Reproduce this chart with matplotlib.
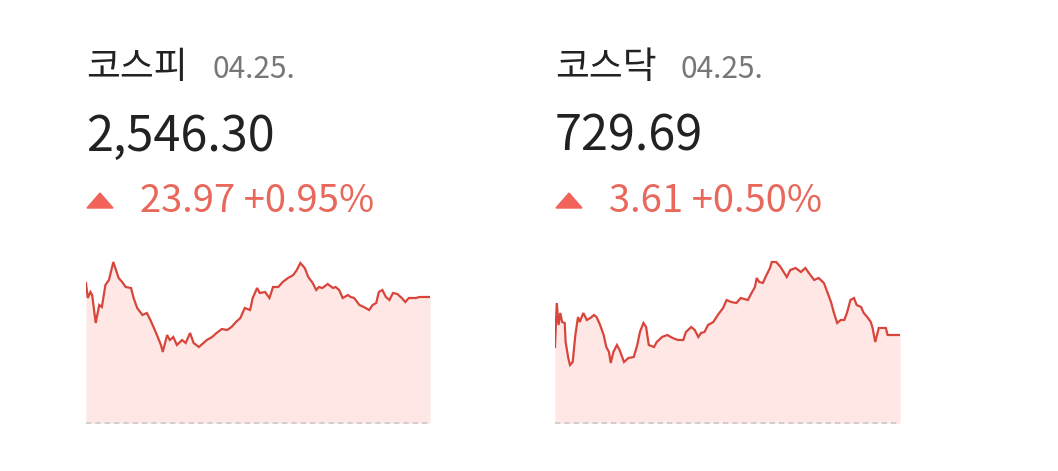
import matplotlib
matplotlib.use('Agg')
import matplotlib.pyplot as plt
from matplotlib.patches import Polygon

plt.rcParams['font.family'] = ['Noto Sans CJK KR', 'DejaVu Sans']

# KOSPI intraday (minutes after open, index value)
kospi_min = [0, 2, 5, 7, 11, 15, 18, 22, 26, 31, 34, 37, 41, 45, 51, 54, 58, 64, 69, 73,
             79, 85, 87, 92, 95, 99, 103, 109, 113, 118, 122, 128, 137, 143, 148, 154, 160,
             165, 170, 175, 180, 186, 189, 194, 197, 203, 208, 212, 218, 223, 229, 235, 239,
             243, 248, 252, 257, 261, 264, 268, 274, 280, 283, 287, 291, 297, 300, 304, 310,
             315, 321, 325, 329, 332, 336, 340, 344, 348, 353, 358, 362, 366, 374, 378, 390]
kospi_val = [2553.3, 2545.8, 2548.8, 2547.3, 2533.3, 2542.3, 2541.3, 2552.3, 2554.8, 2563.8,
             2559.8, 2555.8, 2553.8, 2551.3, 2550.8, 2545.8, 2540.8, 2537.3, 2538.3, 2534.8,
             2528.8, 2522.3, 2518.8, 2527.3, 2524.8, 2526.3, 2522.3, 2524.8, 2523.3, 2528.3,
             2523.3, 2521.3, 2524.8, 2526.3, 2528.3, 2530.3, 2529.8, 2531.3, 2533.8, 2535.8,
             2540.8, 2539.8, 2545.8, 2550.8, 2548.3, 2548.8, 2545.8, 2551.3, 2551.3, 2553.8,
             2555.8, 2557.3, 2559.8, 2563.3, 2560.8, 2556.3, 2553.3, 2549.8, 2551.3, 2550.8,
             2552.8, 2550.8, 2551.3, 2549.8, 2545.8, 2547.3, 2546.3, 2545.8, 2542.3, 2541.3,
             2539.8, 2542.3, 2543.3, 2548.8, 2549.8, 2546.3, 2544.8, 2548.3, 2547.8, 2545.8,
             2543.8, 2545.8, 2545.8, 2546.3, 2546.3]

# KOSDAQ intraday
kosdaq_min = [0, 2, 4, 6, 8, 11, 12, 15, 17, 20, 23, 26, 28, 32, 36, 40, 44, 47, 51, 55,
              58, 61, 63, 66, 70, 73, 78, 83, 89, 93, 96, 100, 103, 106, 112, 115, 121, 127,
              133, 139, 145, 148, 154, 158, 162, 165, 169, 173, 179, 184, 190, 194, 199, 205,
              210, 218, 221, 226, 228, 231, 235, 238, 243, 245, 250, 255, 262, 266, 272, 278,
              283, 287, 293, 298, 304, 307, 312, 315, 319, 323, 327, 330, 334, 338, 341, 346,
              349, 353, 357, 359, 362, 366, 374, 376, 390]
kosdaq_val = [728.49, 732.89, 730.69, 731.89, 730.99, 730.89, 728.99, 727.39, 726.69, 726.99,
              729.69, 731.49, 730.99, 731.89, 731.19, 731.39, 731.69, 731.49, 730.69, 729.69,
              728.49, 727.99, 726.89, 727.99, 728.69, 728.19, 726.99, 727.39, 727.49, 728.69,
              729.99, 730.89, 730.49, 728.69, 728.49, 728.99, 729.49, 729.69, 729.39, 729.19,
              729.19, 729.99, 730.49, 730.19, 729.49, 729.89, 729.99, 730.69, 730.99, 731.69,
              732.39, 733.19, 732.99, 732.89, 733.39, 733.19, 733.69, 734.49, 735.39, 734.99,
              734.89, 735.49, 736.39, 736.99, 736.99, 736.49, 735.49, 736.19, 736.39, 735.99,
              736.39, 735.89, 735.19, 735.39, 734.89, 734.19, 732.99, 731.99, 730.89, 731.19,
              731.19, 731.89, 733.19, 733.39, 732.69, 732.49, 731.89, 731.49, 730.99, 730.39,
              728.99, 730.39, 730.39, 729.69, 729.69]

names = ['코스피', '코스닥']
dates = ['04.25.', '04.25.']
closes = ['2,546.30', '729.69']
changes = ['23.97 +0.95%', '3.61 +0.50%']

W, H = 1058, 471
fig = plt.figure(figsize=(W / 100, H / 100), dpi=100)

LINE = '#d8453b'
FILL = '#fee7e5'
RED_TXT = '#e8685c'
TRI = '#f0625a'


def draw_panel(left, width, minutes, values, ylim, name, date, close, change):
    ax = fig.add_axes([left / W, 48 / H, width / W, 168 / H])
    ax.fill_between(minutes, values, ylim[0], color=FILL, lw=0)
    ax.plot(minutes, values, color=LINE, lw=1.6, solid_joinstyle='miter')
    ax.axhline(ylim[0], color='#c9c9c9', lw=1.2, dashes=(3.2, 2.4), clip_on=False)
    ax.set_xlim(0, 390)
    ax.set_ylim(*ylim)
    ax.axis('off')

    fig.text(left / W, 1 - 78 / H, name, fontsize=26.5, color='#222222', va='baseline')
    fig.text((left + 126) / W, 1 - 78 / H, date, fontsize=21.5, color='#777777', va='baseline')
    fig.text(left / W, 1 - 151 / H, close, fontsize=35, color='#222222', va='baseline')
    fig.text((left + 54) / W, 1 - 212 / H, change, fontsize=27.5, color=RED_TXT, va='baseline')
    tri = Polygon([[left + 1, H - 208], [left + 27, H - 208], [left + 14, H - 193]],
                  closed=True, transform=None, color=TRI)
    fig.add_artist(tri)


draw_panel(86, 344, kospi_min, kospi_val, (2483.3, 2567.3), names[0], dates[0], closes[0], changes[0])
draw_panel(555, 345, kosdaq_min, kosdaq_val, (720.89, 737.69), names[1], dates[1], closes[1], changes[1])

fig.savefig('out.png', dpi=100)
